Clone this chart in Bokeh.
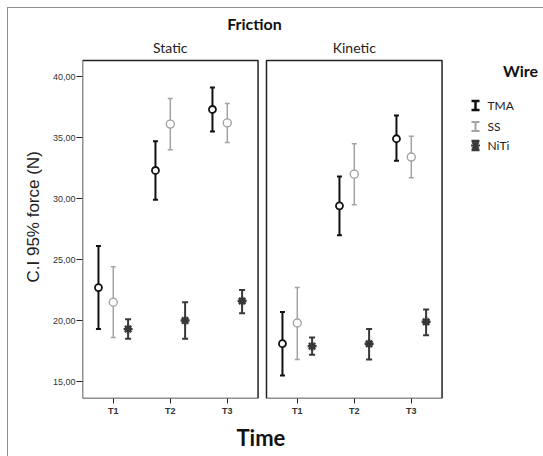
import numpy as np
from bokeh.plotting import figure
from bokeh.models import Range1d, FixedTicker, Title, ColumnDataSource
from bokeh.core.properties import value
from bokeh.embed import file_html
from bokeh.resources import INLINE

# ---------------- data ----------------
times = ["T1", "T2", "T3"]
panels = ["Static", "Kinetic"]
wires = ["TMA", "SS", "NiTi"]
y_ticks = [15, 20, 25, 30, 35, 40]
y_tick_labels = ["15,00", "20,00", "25,00", "30,00", "35,00", "40,00"]

static_tma_mean = [22.7, 32.3, 37.3]
static_tma_low = [19.3, 29.9, 35.5]
static_tma_high = [26.1, 34.7, 39.1]
static_ss_mean = [21.5, 36.1, 36.2]
static_ss_low = [18.6, 34.0, 34.6]
static_ss_high = [24.4, 38.2, 37.8]
static_niti_mean = [19.3, 20.0, 21.6]
static_niti_low = [18.5, 18.5, 20.6]
static_niti_high = [20.1, 21.5, 22.5]

kinetic_tma_mean = [18.1, 29.4, 34.9]
kinetic_tma_low = [15.5, 27.0, 33.1]
kinetic_tma_high = [20.7, 31.8, 36.8]
kinetic_ss_mean = [19.8, 32.0, 33.4]
kinetic_ss_low = [16.8, 29.5, 31.7]
kinetic_ss_high = [22.7, 34.5, 35.1]
kinetic_niti_mean = [17.9, 18.1, 19.9]
kinetic_niti_low = [17.2, 16.8, 18.8]
kinetic_niti_high = [18.6, 19.3, 20.9]

series = {
    ("Static", "TMA"): (static_tma_mean, static_tma_low, static_tma_high),
    ("Static", "SS"): (static_ss_mean, static_ss_low, static_ss_high),
    ("Static", "NiTi"): (static_niti_mean, static_niti_low, static_niti_high),
    ("Kinetic", "TMA"): (kinetic_tma_mean, kinetic_tma_low, kinetic_tma_high),
    ("Kinetic", "SS"): (kinetic_ss_mean, kinetic_ss_low, kinetic_ss_high),
    ("Kinetic", "NiTi"): (kinetic_niti_mean, kinetic_niti_low, kinetic_niti_high),
}

# ---------------- layout / style ----------------
PX = 57.0          # pixels per category step
PY = 12.2          # pixels per force unit
X0 = 0.46          # frame left edge (data)
Y0 = 13.61         # frame bottom edge (data)
W, H = 535, 448
FL, FB = 74, 58    # frame left / bottom borders (canvas px)
x_max = X0 + (W - FL) / PX
y_max = Y0 + (H - FB) / PY
panel_shift = {"Static": 0.0, "Kinetic": 184.0 / PX}
panel_pad = 0.54
panel_top = Y0 + 338.0 / PY
wire_offset = {"TMA": -0.26, "SS": 0.0, "NiTi": 0.26}
style = {
    "TMA": dict(color="#111111", lw=2.0, cap=5, marker="circle", msize=7, mlw=1.8),
    "SS": dict(color="#a3a3a3", lw=1.5, cap=5, marker="circle", msize=8, mlw=1.4),
    "NiTi": dict(color="#383838", lw=2.0, cap=6, marker="asterisk", msize=9, mlw=2.4),
}

p = figure(width=W, height=H, output_backend="svg", toolbar_location=None,
           x_range=Range1d(X0, x_max), y_range=Range1d(Y0, y_max),
           min_border_left=FL, min_border_right=0, min_border_top=0,
           min_border_bottom=FB)
p.margin = (8, 0, 0, 8)
p.styles = {"outline": "1px solid #8e8e8e"}
p.outline_line_color = None
p.xgrid.visible = False
p.ygrid.visible = False
p.background_fill_color = "white"
p.border_fill_color = "white"

# panel frames
for name in panels:
    s = panel_shift[name]
    p.quad(left=[s + 1 - panel_pad], right=[s + 3 + panel_pad],
           bottom=[Y0], top=[panel_top], fill_color=None,
           line_color="#222222", line_width=1.5)

# error bars and markers
for (panel, wire), (mean, low, high) in series.items():
    st = style[wire]
    xs = [panel_shift[panel] + i + 1 + wire_offset[wire] for i in range(len(times))]
    src = ColumnDataSource(dict(x=xs, m=mean, lo=low, hi=high))
    p.segment(x0="x", y0="lo", x1="x", y1="hi", source=src,
              line_color=st["color"], line_width=st["lw"])
    p.scatter(x="x", y="lo", source=src, marker="dash", size=st["cap"],
              line_color=st["color"], line_width=st["lw"])
    p.scatter(x="x", y="hi", source=src, marker="dash", size=st["cap"],
              line_color=st["color"], line_width=st["lw"])
    p.scatter(x="x", y="m", source=src, marker=st["marker"], size=st["msize"],
              line_color=st["color"], fill_color="white" if wire != "NiTi" else st["color"],
              line_width=st["mlw"])

# axes
tick_x = [panel_shift[pn] + i + 1 for pn in panels for i in range(len(times))]
p.xaxis.ticker = FixedTicker(ticks=tick_x)
p.xaxis.major_label_overrides = {t: times[k % 3] for k, t in enumerate(tick_x)}
p.xaxis.axis_line_color = None
p.xaxis.major_tick_out = 5
p.xaxis.major_tick_in = 0
p.xaxis.minor_tick_line_color = None
p.xaxis.major_tick_line_color = "#222222"
p.xaxis.major_label_text_font = "Liberation Sans"
p.xaxis.major_label_text_font_size = "9px"
p.xaxis.major_label_text_font_style = "bold"
p.xaxis.major_label_text_color = "#333333"
p.xaxis.major_label_standoff = 2

p.yaxis.ticker = FixedTicker(ticks=y_ticks)
p.yaxis.major_label_overrides = dict(zip(y_ticks, y_tick_labels))
p.yaxis.axis_line_color = None
p.yaxis.major_tick_out = 6
p.yaxis.major_tick_in = 0
p.yaxis.minor_tick_line_color = None
p.yaxis.major_tick_line_color = "#222222"
p.yaxis.major_label_text_font = "Liberation Sans"
p.yaxis.major_label_text_font_size = "9px"
p.yaxis.major_label_text_color = "#333333"
p.yaxis.major_label_standoff = 1

# titles
p.text(x=[X0 + 172 / PX], y=[Y0 + 375 / PY], text=["Friction"],
       text_font=value("Lato"), text_font_size="16px", text_font_style="bold",
       text_align="center", text_baseline="middle", text_color="#111111")
p.text(x=[panel_shift[pn] + 2 for pn in panels], y=[Y0 + 351 / PY] * 2, text=panels,
       text_font=value("Lato"), text_font_size="14px",
       text_align="center", text_baseline="middle", text_color="#222222")

# legend
leg_x = X0 + 393 / PX
leg_y = [Y0 + 293 / PY, Y0 + 272 / PY, Y0 + 253 / PY]
p.text(x=[X0 + 438 / PX], y=[Y0 + 328 / PY], text=["Wire"],
       text_font=value("Lato"), text_font_size="16px", text_font_style="bold",
       text_align="center", text_baseline="middle", text_color="#111111")
for k, wire in enumerate(wires):
    st = style[wire]
    yc = leg_y[k]
    half = 4.5 / PY
    p.segment(x0=[leg_x], y0=[yc - half], x1=[leg_x], y1=[yc + half],
              line_color=st["color"], line_width=st["lw"] + 0.5)
    p.scatter(x=[leg_x, leg_x], y=[yc - half, yc + half], marker="dash", size=8,
              line_color=st["color"], line_width=st["lw"] + 0.5)
    if wire == "NiTi":
        p.scatter(x=[leg_x], y=[yc], marker="asterisk", size=9,
                  line_color=st["color"], line_width=2.2)
    p.text(x=[leg_x + 12 / PX], y=[yc], text=[wire],
           text_font=value("Lato"), text_font_size="12px",
           text_align="left", text_baseline="middle", text_color="#222222")

# outer axis titles
p.add_layout(Title(text="Time", align="left", offset=154, standoff=6,
                   text_font="Lato", text_font_size="22px", text_font_style="bold",
                   text_color="#111111"), "below")
p.add_layout(Title(text="C.I 95% force (N)", align="left", offset=116, standoff=14,
                   text_font="Liberation Sans", text_font_size="17px",
                   text_font_style="normal", text_color="#222222"), "left")

open("out.html", "w").write(file_html(p, INLINE))
